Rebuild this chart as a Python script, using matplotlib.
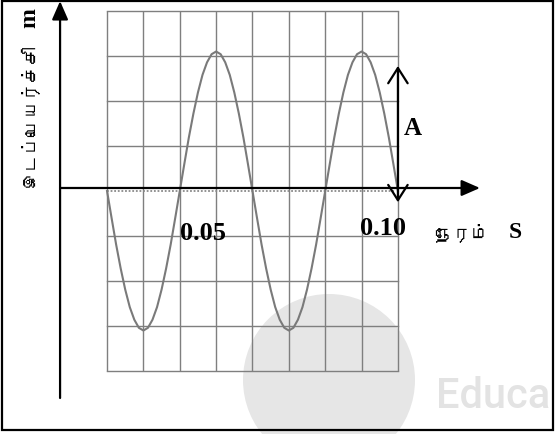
import matplotlib
matplotlib.use('Agg')
import matplotlib.pyplot as plt
from matplotlib import font_manager
from matplotlib.ft2font import FT2Font
from matplotlib.patches import Circle, Rectangle
import numpy as np

# time axis (s) and displacement, 1/32 period apart
time_s = np.linspace(0.0, 0.10, 65)
displacement = [0, -0.60, -1.19, -1.72, -2.19, -2.58, -2.86, -3.04,
                -3.10, -3.04, -2.86, -2.58, -2.19, -1.72, -1.19, -0.60,
                0, 0.60, 1.19, 1.72, 2.19, 2.58, 2.86, 3.04,
                3.10, 3.04, 2.86, 2.58, 2.19, 1.72, 1.19, 0.60,
                0, -0.60, -1.19, -1.72, -2.19, -2.58, -2.86, -3.04,
                -3.10, -3.04, -2.86, -2.58, -2.19, -1.72, -1.19, -0.60,
                0, 0.60, 1.19, 1.72, 2.19, 2.58, 2.86, 3.04,
                3.10, 3.04, 2.86, 2.58, 2.19, 1.72, 1.19, 0.60, 0]

grid_t = np.linspace(0.0, 0.10, 9)
grid_y = np.arange(-4, 5)
tick_labels = ["0.05", "0.10"]

y_label_ta = "இடப்பெயர்ச்சி"
x_label_ta = "நேரம்"


def find_tamil_font():
    seen = set()
    for f in font_manager.fontManager.ttflist:
        if f.fname in seen:
            continue
        seen.add(f.fname)
        try:
            if 0x0B87 in FT2Font(f.fname).get_charmap():
                return f.name
        except Exception:
            pass
    return None


tamil = find_tamil_font()
tamil_family = [tamil, 'DejaVu Sans'] if tamil else ['DejaVu Sans']
serif = 'Liberation Serif'

fig = plt.figure(figsize=(5.55, 4.35), dpi=100)
ax = fig.add_axes([0, 0, 1, 1])
ax.set_xlim(-0.0368, 0.1540)
ax.set_ylim(-5.4, 4.267)
ax.axis('off')

# watermark (behind everything)
ax.add_patch(Circle((3.29, 4.35 - 3.81), 0.86, transform=fig.dpi_scale_trans,
                    facecolor='#e6e6e6', edgecolor='none', zorder=0))
ax.text(0.1130, -4.55, "Educa", fontsize=30, family='Roboto', fontweight='medium',
        color='#e3e3e3', va='center', ha='left', zorder=0.5)

# grid
ax.vlines(grid_t, grid_y[0], grid_y[-1], color='#7f7f7f', lw=1.0, zorder=2)
for g in grid_y:
    if g == 0:
        ax.plot([grid_t[0], grid_t[-1] - 0.001], [g, g], color='#8a8a8a', lw=1.3,
                ls=(0, (1, 1)), zorder=2)
    else:
        ax.plot([grid_t[0], grid_t[-1]], [g, g], color='#7f7f7f', lw=1.0, zorder=2)

# trace
ax.plot(time_s, displacement, color='#7a7a7a', lw=1.5, zorder=3)

# axes with arrows
arr = dict(arrowstyle='-|>,head_length=0.8,head_width=0.35', mutation_scale=14,
           lw=1.6, color='black', shrinkA=0, shrinkB=0)
ax.annotate('', xy=(-0.01615, 4.22), xytext=(-0.01615, -4.6), arrowprops=arr, zorder=4)
ax.annotate('', xy=(0.1282, 0.067), xytext=(-0.01615, 0.067), arrowprops=arr, zorder=4)

# amplitude arrow
ax.annotate('', xy=(0.10, 2.78), xytext=(0.10, -0.25),
            arrowprops=dict(arrowstyle='<->,head_length=0.55,head_width=0.35',
                            mutation_scale=20, lw=1.6, color='black',
                            shrinkA=0, shrinkB=0), zorder=4)
ax.text(0.1052, 1.42, "A", fontsize=18, family=serif, fontweight='bold',
        ha='center', va='center', zorder=5)

# tick labels
ax.text(0.0330, -0.92, tick_labels[0], fontsize=19, family=serif, fontweight='bold',
        ha='center', va='center', zorder=5)
ax.text(0.0949, -0.80, tick_labels[1], fontsize=19, family=serif, fontweight='bold',
        ha='center', va='center', zorder=5)

# axis labels
ax.text(0.1220, -0.89, x_label_ta, fontsize=13, family=tamil_family,
        ha='center', va='center', zorder=5)
ax.text(0.1405, -0.89, "S", fontsize=17, family=serif, fontweight='bold',
        ha='center', va='center', zorder=5)
ax.text(-0.0266, 1.71, y_label_ta, fontsize=13, family=tamil_family, rotation=90,
        ha='center', va='center', zorder=5)
ax.text(-0.0266, 3.86, "m", fontsize=17, family=serif, fontweight='bold', rotation=90,
        ha='center', va='center', zorder=5)

# frame
fig.patches.append(Rectangle((2 / 555, 4 / 435), 551 / 555, 429 / 435,
                             transform=fig.transFigure, fill=False,
                             edgecolor='black', lw=1.6, zorder=10))

fig.savefig('out.png', dpi=100)
